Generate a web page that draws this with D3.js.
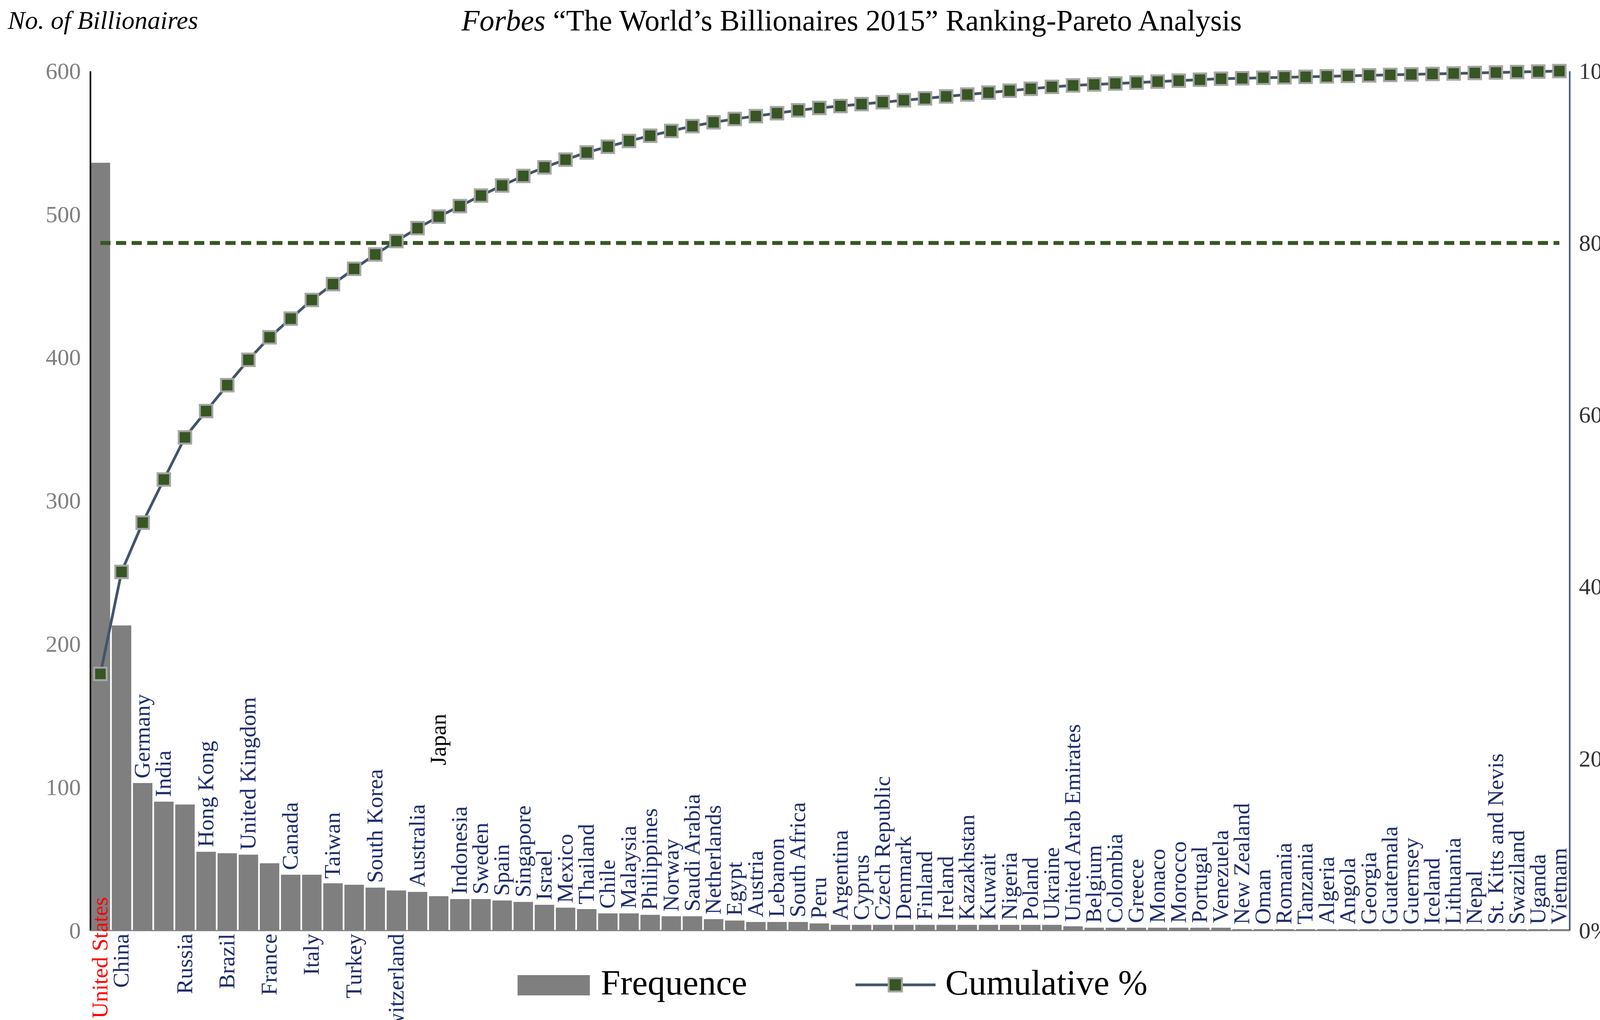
<!DOCTYPE html>
<html>
<head>
<meta charset="utf-8">
<style>
  html, body { margin: 0; background: #fff; overflow: hidden; }
  svg { display: block; }
  text { font-family: "Liberation Serif", "DejaVu Serif", serif; }
</style>
</head>
<body>
<svg id="chart" width="4244" height="2612"></svg>
<script src="https://cdn.jsdelivr.net/npm/d3@7/dist/d3.min.js"></script>
<script>
const countries = ["United States","China","Germany","India","Russia","Hong Kong","Brazil","United Kingdom","France","Canada","Italy","Taiwan","Turkey","South Korea","Switzerland","Australia","Japan","Indonesia","Sweden","Spain","Singapore","Israel","Mexico","Thailand","Chile","Malaysia","Philippines","Norway","Saudi Arabia","Netherlands","Egypt","Austria","Lebanon","South Africa","Peru","Argentina","Cyprus","Czech Republic","Denmark","Finland","Ireland","Kazakhstan","Kuwait","Nigeria","Poland","Ukraine","United Arab Emirates","Belgium","Colombia","Greece","Monaco","Morocco","Portugal","Venezuela","New Zealand","Oman","Romania","Tanzania","Algeria","Angola","Georgia","Guatemala","Guernsey","Iceland","Lithuania","Nepal","St. Kitts and Nevis","Swaziland","Uganda","Vietnam"];
const counts = [536,213,103,90,88,55,54,53,47,39,39,33,32,30,28,27,24,22,22,21,20,18,16,15,12,12,11,10,10,8,7,6,6,6,5,4,4,4,4,4,4,4,4,4,4,4,3,2,2,2,2,2,2,2,1,1,1,1,1,1,1,1,1,1,1,1,1,1,1,1];
const belowAxis = ["United States","China","Russia","Brazil","France","Italy","Turkey","Switzerland"];
const leftTicks = [0,100,200,300,400,500,600];
const rightTicks = [0,20,40,60,80,100];

const total = d3.sum(counts);
let run = 0;
const cumulative = counts.map(c => { run += c; return run / total * 100; });

const svg = d3.select("#chart");
const L = 231, R = 4018, T = 182, B = 2383;

const x = d3.scaleBand().domain(countries).range([L, R]).paddingInner(0.08).paddingOuter(0.02);
const y = d3.scaleLinear().domain([0, 600]).range([B, T]);
const y2 = d3.scaleLinear().domain([0, 100]).range([B, T]);

// bars
svg.append("g").selectAll("rect").data(countries).join("rect")
  .attr("x", d => x(d)).attr("width", x.bandwidth())
  .attr("y", (d, i) => y(counts[i])).attr("height", (d, i) => B - y(counts[i]))
  .attr("fill", "#7f7f7f");

// axes
const gl = svg.append("g").attr("transform", `translate(${L},0)`)
  .call(d3.axisLeft(y).tickValues(leftTicks).tickSize(0).tickPadding(24));
gl.select(".domain").attr("stroke", "#000").attr("stroke-width", 4);
gl.selectAll("text").attr("font-size", 60).attr("fill", "#7f7f7f")
  .style("font-family", "Liberation Serif, serif");

const gr = svg.append("g").attr("transform", `translate(${R},0)`)
  .call(d3.axisRight(y2).tickValues(rightTicks).tickFormat(d => d + "%").tickSize(0).tickPadding(24));
gr.select(".domain").attr("stroke", "#44546a").attr("stroke-width", 4);
gr.selectAll("text").attr("font-size", 60).attr("fill", "#333")
  .style("font-family", "Liberation Serif, serif");

svg.append("line").attr("x1", L).attr("x2", R).attr("y1", B).attr("y2", B)
  .attr("stroke", "#7f7f7f").attr("stroke-width", 3);

// 80% line
svg.append("line").attr("x1", x(countries[0]) + x.bandwidth() / 2)
  .attr("x2", x(countries[countries.length - 1]) + x.bandwidth() / 2)
  .attr("y1", y2(80)).attr("y2", y2(80))
  .attr("stroke", "#375623").attr("stroke-width", 10).attr("stroke-dasharray", "26,14");

// cumulative line
const cx = d => x(d) + x.bandwidth() / 2;
svg.append("path").datum(countries)
  .attr("d", d3.line().x(cx).y((d, i) => y2(cumulative[i])))
  .attr("fill", "none").attr("stroke", "#44546a").attr("stroke-width", 7);
svg.append("g").selectAll("rect").data(countries).join("rect")
  .attr("x", d => cx(d) - 16).attr("y", (d, i) => y2(cumulative[i]) - 16)
  .attr("width", 32).attr("height", 32)
  .attr("fill", "#375623").attr("stroke", "#a5a5a5").attr("stroke-width", 5);

// country labels
svg.append("g").selectAll("text").data(countries).join("text")
  .attr("transform", (d, i) => {
    const px = cx(d) + 18;
    let py;
    if (d === "United States") py = B + 225;
    else if (belowAxis.includes(d)) py = B + 8;
    else if (d === "Japan") py = y(counts[i]) - 335;
    else py = y(counts[i]) - 12;
    return `translate(${px},${py}) rotate(-90)`;
  })
  .attr("text-anchor", d => (belowAxis.includes(d) && d !== "United States") ? "end" : "start")
  .attr("font-size", 58)
  .attr("fill", d => d === "United States" ? "#ff0000" : d === "Japan" ? "#000" : "#1f2d6b")
  .text(d => d);

// titles
const title = svg.append("text").attr("x", 2180).attr("y", 78).attr("text-anchor", "middle")
  .attr("font-size", 76).attr("fill", "#000");
title.append("tspan").attr("font-style", "italic").text("Forbes");
title.append("tspan").text(" \u201cThe World\u2019s Billionaires 2015\u201d Ranking-Pareto Analysis");

svg.append("text").attr("x", 20).attr("y", 74).attr("font-size", 66)
  .attr("font-style", "italic").attr("fill", "#000").text("No. of Billionaires");

// legend
const lg = svg.append("g");
lg.append("rect").attr("x", 1325).attr("y", 2497).attr("width", 185).attr("height", 52).attr("fill", "#7f7f7f");
lg.append("text").attr("x", 1538).attr("y", 2547).attr("font-size", 90).text("Frequence");
lg.append("line").attr("x1", 2190).attr("x2", 2395).attr("y1", 2522).attr("y2", 2522)
  .attr("stroke", "#44546a").attr("stroke-width", 7);
lg.append("rect").attr("x", 2275).attr("y", 2505).attr("width", 34).attr("height", 34)
  .attr("fill", "#375623").attr("stroke", "#a5a5a5").attr("stroke-width", 5);
lg.append("text").attr("x", 2420).attr("y", 2547).attr("font-size", 90).text("Cumulative %");
</script>
</body>
</html>
